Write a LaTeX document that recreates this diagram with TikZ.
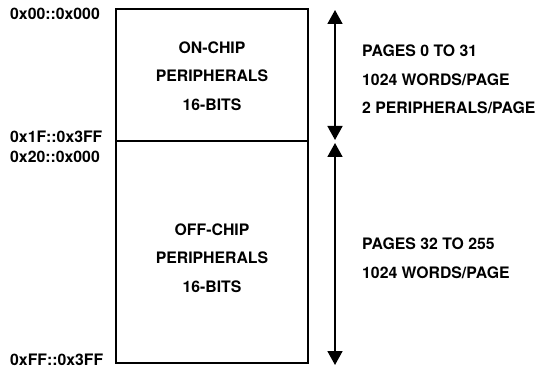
\documentclass[tikz,border=0pt]{standalone}
\usepackage{fontspec}
\setmainfont{TeX Gyre Heros}
\usetikzlibrary{arrows.meta}
\begin{document}
\begin{tikzpicture}[x=1pt,y=-1pt,
  lbl/.style={font=\bfseries\fontsize{15.8}{28.7}\selectfont, inner sep=0pt},
  membox/.style={draw, line width=1.7pt, minimum width=192pt, inner sep=0pt},
  dimarrow/.style={line width=1.7pt, {Triangle[width=15pt,length=14pt]}-{Triangle[width=15pt,length=14pt]}}]
\useasboundingbox (0,0) rectangle (538,371);
% memory boxes
\node[membox, minimum height=132pt] (on) at (212,75) {};
\node[membox, minimum height=222pt] (off) at (212,252) {};
% box texts
\node[lbl, align=center] (ontext) at (212,76) {ON-CHIP\\PERIPHERALS\\16-BITS};
\node[lbl, align=center] (offtext) at (212,258) {OFF-CHIP\\PERIPHERALS\\16-BITS};
% address labels
\node[lbl, anchor=base west] (a0) at (10,19.3) {0x00::0x000};
\node[lbl, anchor=base west] (a1) at (10,142.2) {0x1F::0x3FF};
\node[lbl, anchor=base west] (a2) at (10,162.2) {0x20::0x000};
\node[lbl, anchor=base west] (a3) at (10,365.5) {0xFF::0x3FF};
% arrows
\coordinate (u1) at (335,10);
\coordinate (u2) at (335,140);
\coordinate (l1) at (335,143);
\coordinate (l2) at (335,365);
\draw[dimarrow] (u1) -- (u2);
\draw[dimarrow] (l1) -- (l2);
% right texts
\node[lbl, align=left, anchor=west] (rt1) at (362,79.5) {PAGES 0 TO 31\\1024 WORDS/PAGE\\2 PERIPHERALS/PAGE};
\node[lbl, align=left, anchor=west] (rt2) at (362,258.3) {PAGES 32 TO 255\\1024 WORDS/PAGE};
\end{tikzpicture}
\end{document}
